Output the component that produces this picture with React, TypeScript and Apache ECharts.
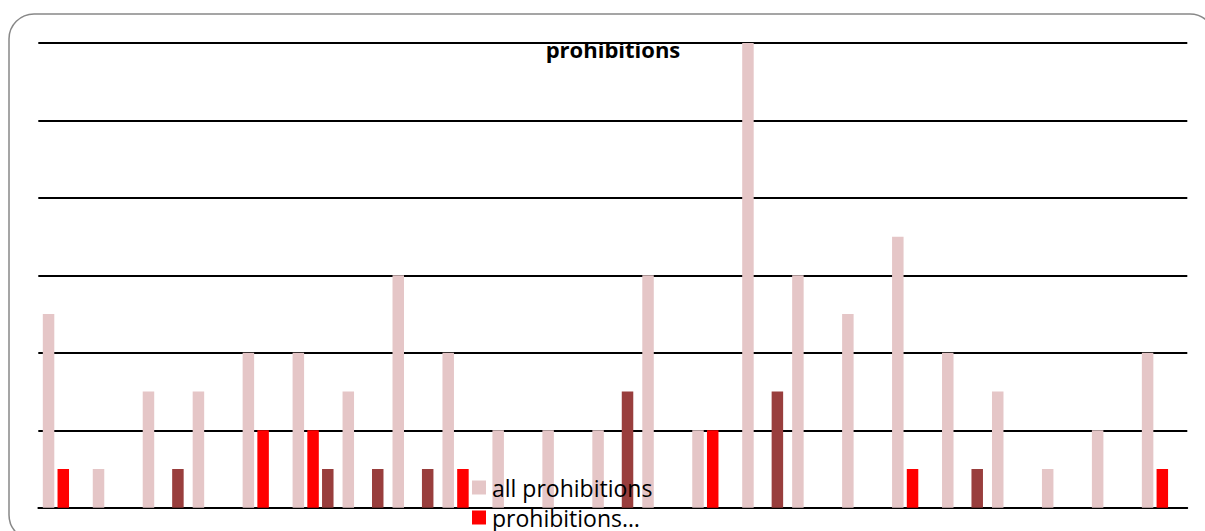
import React, { useEffect, useRef } from "react";
import * as echarts from "echarts";

const categories = ["1","2","3","4","5","6","7","8","9","10","11","12","13","14","15","16","17","18","19","20","21","22","23"];
const allProhibitions = [5, 1, 3, 3, 4, 4, 3, 6, 4, 2, 2, 2, 6, 2, 12, 6, 5, 7, 4, 3, 1, 2, 4];
const prohibitionsA = [1, 0, 0, 0, 2, 2, 0, 0, 1, 0, 0, 0, 0, 2, 0, 0, 0, 1, 0, 0, 0, 0, 1];
const prohibitionsB = [0, 0, 1, 0, 0, 1, 1, 1, 0, 0, 0, 3, 0, 0, 3, 0, 0, 0, 1, 0, 0, 0, 0];
const seriesNames = ["all prohibitions", "prohibitions…", "other prohibitions"];
const seriesColors = ["#E5C6C7", "#FF0000", "#993E3D"];
const yTicks = { min: 0, max: 12, interval: 2 };

export default function App() {
  const ref = useRef<HTMLDivElement>(null);
  useEffect(() => {
    document.body.style.margin = "0";
    const chart = echarts.init(ref.current!, null, { renderer: "svg" });
    const data = [allProhibitions, prohibitionsA, prohibitionsB];
    chart.setOption({
      animation: false,
      textStyle: { fontFamily: "Open Sans" },
      title: {
        text: "prohibitions",
        left: 613,
        top: 38,
        textAlign: "center",
        padding: 0,
        textStyle: { fontFamily: "Open Sans", fontWeight: "bold", fontSize: 22, color: "#000" },
      },
      legend: {
        data: [seriesNames[0], seriesNames[1]],
        orient: "vertical",
        left: 472,
        top: 476,
        height: 120,
        padding: 0,
        itemWidth: 14,
        itemHeight: 14,
        itemGap: 7,
        icon: "rect",
        selectedMode: false,
        textStyle: { fontFamily: "Open Sans", fontSize: 23, color: "#000", padding: [0, 0, 0, 1] },
      },
      grid: { left: 38.3, right: 17.7, top: 43, bottom: 23.3, containLabel: false },
      xAxis: {
        type: "category",
        data: categories,
        axisLine: { show: true, lineStyle: { color: "#000", width: 1.8 } },
        axisTick: { show: false },
        axisLabel: { show: false },
      },
      yAxis: {
        type: "value",
        min: yTicks.min,
        max: yTicks.max,
        interval: yTicks.interval,
        axisLine: { show: false },
        axisTick: { show: false },
        axisLabel: { show: false },
        splitLine: { show: true, lineStyle: { color: "#000", width: 1.8 } },
      },
      series: data.map((d, i) => ({
        name: seriesNames[i],
        type: "bar",
        data: d,
        barWidth: 11.5,
        barGap: "28%",
        itemStyle: { color: seriesColors[i] },
      })),
      graphic: [
        {
          type: "rect",
          shape: { x: 9, y: 14, width: 1206, height: 526, r: 25 },
          style: { fill: "none", stroke: "#888", lineWidth: 1.5 },
          silent: true,
        },
      ],
    });
    return () => chart.dispose();
  }, []);
  return <div ref={ref} style={{ width: 1205, height: 531 }} />;
}
